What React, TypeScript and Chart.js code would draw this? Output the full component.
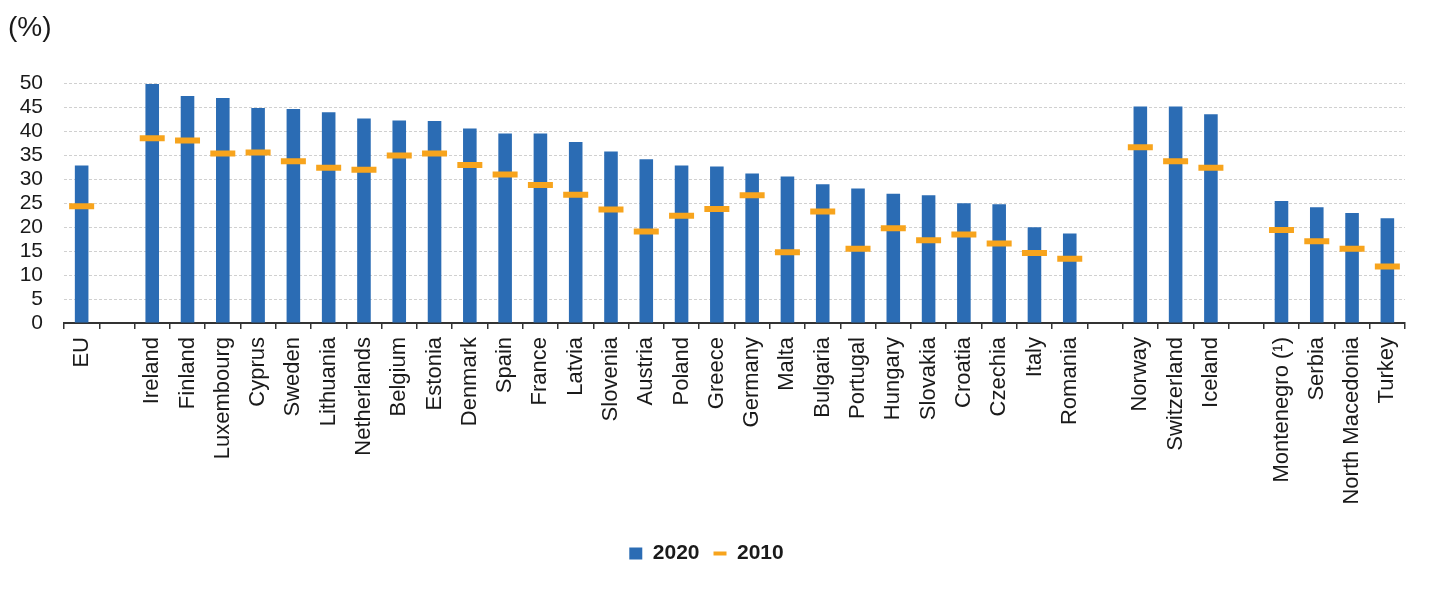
import React, { useEffect, useRef } from "react";
import { Chart, registerables } from "chart.js";

Chart.register(...registerables);

const categories: string[] = [
  "EU", "",
  "Ireland", "Finland", "Luxembourg", "Cyprus", "Sweden", "Lithuania", "Netherlands",
  "Belgium", "Estonia", "Denmark", "Spain", "France", "Latvia", "Slovenia", "Austria",
  "Poland", "Greece", "Germany", "Malta", "Bulgaria", "Portugal", "Hungary", "Slovakia",
  "Croatia", "Czechia", "Italy", "Romania", "",
  "Norway", "Switzerland", "Iceland", "",
  "Montenegro (¹)", "Serbia", "North Macedonia", "Turkey",
];

const values2020: (number | null)[] = [
  32.9, null,
  49.9, 47.4, 47.0, 44.9, 44.7, 44.0, 42.7,
  42.3, 42.2, 40.6, 39.6, 39.6, 37.8, 35.8, 34.2,
  32.9, 32.7, 31.2, 30.6, 29.0, 28.1, 27.0, 26.7,
  25.0, 24.8, 20.0, 18.7, null,
  45.2, 45.2, 43.6, null,
  25.5, 24.2, 23.0, 21.9,
];

const values2010: (number | null)[] = [
  24.4, null,
  38.6, 38.1, 35.4, 35.6, 33.8, 32.4, 32.0,
  35.0, 35.4, 33.0, 31.0, 28.8, 26.8, 23.7, 19.1,
  22.4, 23.8, 26.7, 14.8, 23.3, 15.5, 19.8, 17.3,
  18.5, 16.6, 14.6, 13.4, null,
  36.7, 33.8, 32.4, null,
  19.4, 17.1, 15.5, 11.8,
];

const seriesNames: string[] = ["2020", "2010"];
const yTicks: number[] = [0, 5, 10, 15, 20, 25, 30, 35, 40, 45, 50];

const BLUE = "#2b6cb4";
const ORANGE = "#f7a41d";
const FONT = "'Liberation Sans', Arial, sans-serif";

export default function App() {
  const canvasRef = useRef<HTMLCanvasElement | null>(null);

  useEffect(() => {
    const canvas = canvasRef.current;
    if (!canvas) return;
    const chart = new Chart(canvas, {
      type: "bar",
      data: {
        labels: categories,
        datasets: [
          {
            type: "bar",
            label: seriesNames[0],
            data: values2020,
            backgroundColor: BLUE,
            borderWidth: 0,
            categoryPercentage: 1,
            barPercentage: 0.385,
            order: 1,
            pointStyle: "rect",
          } as any,
          {
            type: "line",
            label: seriesNames[1],
            data: values2010,
            showLine: false,
            borderColor: ORANGE,
            backgroundColor: ORANGE,
            borderWidth: 6,
            pointStyle: "line",
            pointRadius: 12.5,
            pointHoverRadius: 12.5,
            pointBorderWidth: 6,
            pointBorderColor: ORANGE,
            order: 0,
          } as any,
        ],
      },
      options: {
        responsive: true,
        maintainAspectRatio: false,
        animation: false,
        layout: { padding: { left: 8, right: 24, top: 0, bottom: 20 } },
        plugins: {
          tooltip: { enabled: false },
          title: {
            display: true,
            text: "(%)",
            align: "start",
            color: "#1a1a1a",
            font: { family: FONT, size: 28, weight: "normal" as any, lineHeight: 1.2 },
            padding: { top: 11, bottom: 39 },
          },
          legend: {
            display: true,
            position: "bottom",
            labels: {
              usePointStyle: true,
              boxHeight: 12,
              pointStyleWidth: 13,
              padding: 14,
              color: "#1a1a1a",
              font: { family: FONT, size: 21, weight: "bold" as any },
              sort: (a: any, b: any) => a.datasetIndex - b.datasetIndex,
              generateLabels: (ch: any) => {
                const items = Chart.defaults.plugins.legend.labels.generateLabels(ch);
                items.forEach((it: any) => {
                  if (it.datasetIndex === 1) {
                    it.lineWidth = 4;
                    it.strokeStyle = ORANGE;
                    it.pointStyle = "line";
                  } else {
                    it.lineWidth = 0;
                    it.pointStyle = "rect";
                    it.fillStyle = BLUE;
                  }
                });
                return items;
              },
            },
          },
        },
        scales: {
          x: {
            type: "category",
            offset: true,
            afterFit: (scale: any) => {
              scale.height = 206;
            },
            grid: {
              display: true,
              drawOnChartArea: false,
              drawTicks: true,
              tickLength: 6,
              color: "#333",
              lineWidth: 1.5,
              offset: true,
            },
            border: { display: true, color: "#333", width: 2 },
            ticks: {
              autoSkip: false,
              minRotation: 90,
              maxRotation: 90,
              padding: 8,
              color: "#1a1a1a",
              font: { family: FONT, size: 22 },
            },
          },
          y: {
            min: 0,
            max: 50,
            afterFit: (scale: any) => {
              scale.width = 56;
            },
            afterBuildTicks: (scale: any) => {
              scale.ticks = yTicks.map((v) => ({ value: v }));
            },
            grid: {
              display: true,
              drawTicks: false,
              color: "#d0d0d0",
              lineWidth: 1,
            },
            border: { display: false, dash: [3, 2] },
            ticks: {
              autoSkip: false,
              stepSize: 5,
              padding: 21,
              color: "#1a1a1a",
              font: { family: FONT, size: 21 },
            },
          },
        },
      },
    });
    return () => chart.destroy();
  }, []);

  return (
    <div
      style={{
        position: "fixed",
        left: 0,
        top: 0,
        width: 1429,
        height: 594,
        background: "#ffffff",
      }}
    >
      <canvas ref={canvasRef} />
    </div>
  );
}
